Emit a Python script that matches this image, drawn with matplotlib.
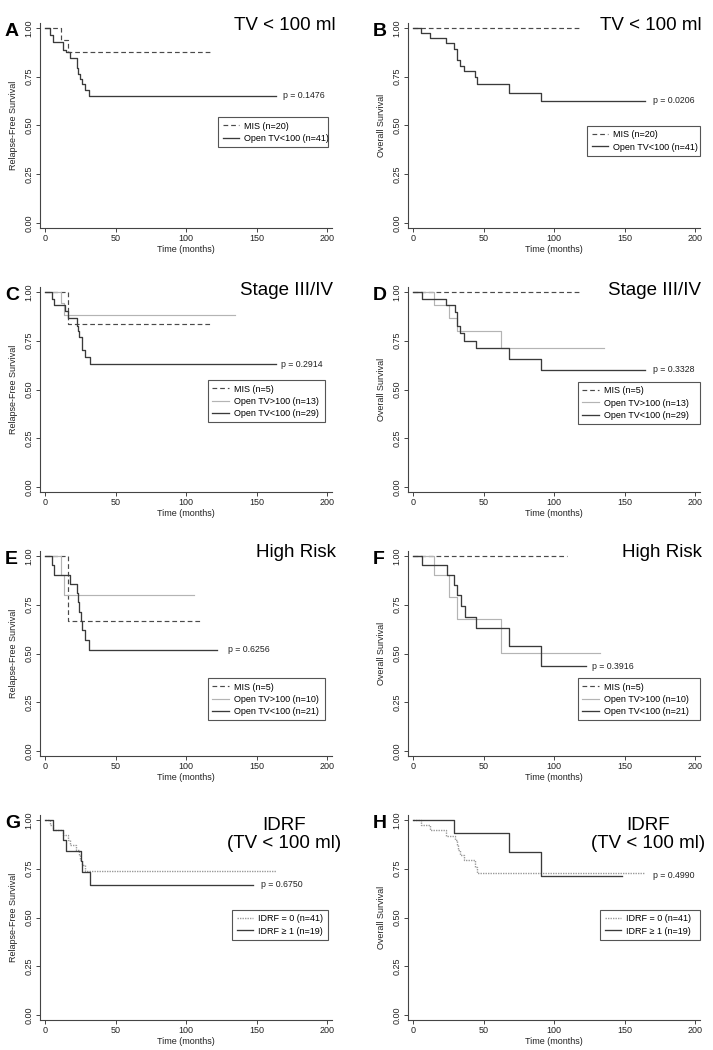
import matplotlib
matplotlib.use('Agg')
import matplotlib.pyplot as plt

plt.rcParams['font.family'] = ['Liberation Sans', 'DejaVu Sans']

# Kaplan-Meier curves.
# Each curve: step times (first = 0, last = end of follow-up) and survival.

# A: relapse-free survival, TV < 100 ml
a_mis_t = [0, 11.4, 16.6, 117.6]
a_mis_s = [1.0, 0.94, 0.875, 0.875]
a_open_t = [0, 3.6, 5.9, 13.0, 14.7, 17.8, 22.5, 23.7, 24.9, 26.0, 28.4, 31.5, 164.0]
a_open_s = [1.0, 0.966, 0.926, 0.888, 0.875, 0.846, 0.794, 0.765, 0.741, 0.714, 0.683, 0.652, 0.652]

# B: overall survival, TV < 100 ml
b_mis_t = [0, 117.9]
b_mis_s = [1.0, 1.0]
b_open_t = [0, 6.0, 11.9, 23.3, 29.3, 31.0, 33.3, 36.4, 44.0, 45.2, 67.9, 90.7, 164.8]
b_open_s = [1.0, 0.975, 0.95, 0.923, 0.892, 0.834, 0.806, 0.777, 0.748, 0.714, 0.669, 0.626, 0.626]

# C: relapse-free survival, stage III/IV
c_mis_t = [0, 16.6, 117.6]
c_mis_s = [1.0, 0.834, 0.834]
c_big_t = [0, 11.4, 13.7, 134.4]
c_big_s = [1.0, 0.942, 0.883, 0.883]
c_open_t = [0, 5.2, 6.4, 14.2, 16.6, 22.5, 23.2, 24.4, 26.0, 28.4, 32.0, 164.0]
c_open_s = [1.0, 0.966, 0.935, 0.90, 0.866, 0.828, 0.80, 0.767, 0.703, 0.666, 0.63, 0.63]

# D: overall survival, stage III/IV
d_mis_t = [0, 117.9]
d_mis_s = [1.0, 1.0]
d_big_t = [0, 14.8, 25.7, 31.0, 62.6, 135.7]
d_big_s = [1.0, 0.933, 0.866, 0.80, 0.714, 0.714]
d_open_t = [0, 6.7, 23.3, 29.8, 31.5, 33.3, 36.4, 44.5, 68.3, 91.0, 164.8]
d_open_s = [1.0, 0.966, 0.931, 0.897, 0.827, 0.79, 0.75, 0.714, 0.657, 0.60, 0.60]

# E: relapse-free survival, high risk
e_mis_t = [0, 16.6, 110.8]
e_mis_s = [1.0, 0.666, 0.666]
e_big_t = [0, 11.4, 13.7, 105.8]
e_big_s = [1.0, 0.90, 0.80, 0.80]
e_open_t = [0, 5.2, 6.4, 17.8, 22.5, 23.2, 24.4, 25.6, 26.5, 28.4, 31.5, 121.9]
e_open_s = [1.0, 0.952, 0.905, 0.858, 0.81, 0.762, 0.714, 0.667, 0.619, 0.571, 0.518, 0.518]

# F: overall survival, high risk
f_mis_t = [0, 109.5]
f_mis_s = [1.0, 1.0]
f_big_t = [0, 14.8, 25.7, 31.0, 62.6, 132.9]
f_big_s = [1.0, 0.90, 0.788, 0.676, 0.504, 0.504]
f_open_t = [0, 6.7, 23.8, 29.0, 31.0, 34.0, 36.9, 44.5, 68.3, 91.0, 122.6]
f_open_s = [1.0, 0.952, 0.905, 0.85, 0.80, 0.742, 0.685, 0.63, 0.539, 0.434, 0.434]

# G: relapse-free survival, IDRF (TV < 100 ml)
g_idrf0_t = [0, 3.6, 5.9, 13.0, 16.0, 18.0, 22.0, 24.0, 25.0, 26.0, 28.4, 164.0]
g_idrf0_s = [1.0, 0.974, 0.948, 0.923, 0.897, 0.871, 0.845, 0.819, 0.793, 0.767, 0.741, 0.741]
g_idrf1_t = [0, 5.9, 12.5, 14.7, 25.6, 26.5, 32.0, 147.2]
g_idrf1_s = [1.0, 0.947, 0.895, 0.842, 0.789, 0.734, 0.669, 0.669]

# H: overall survival, IDRF (TV < 100 ml)
h_idrf0_t = [0, 6.0, 11.9, 23.3, 30.0, 31.0, 32.1, 33.3, 36.4, 44.0, 45.2, 163.8]
h_idrf0_s = [1.0, 0.975, 0.947, 0.92, 0.895, 0.87, 0.845, 0.82, 0.795, 0.76, 0.729, 0.729]
h_idrf1_t = [0, 29.3, 68.3, 91.0, 148.3]
h_idrf1_s = [1.0, 0.935, 0.834, 0.714, 0.714]

letters = ['A', 'B', 'C', 'D', 'E', 'F', 'G', 'H']
titles = ['TV < 100 ml', 'TV < 100 ml', 'Stage III/IV', 'Stage III/IV',
          'High Risk', 'High Risk', 'IDRF\n(TV < 100 ml)', 'IDRF\n(TV < 100 ml)']
p_values = ['p = 0.1476', 'p = 0.0206', 'p = 0.2914', 'p = 0.3328',
            'p = 0.6256', 'p = 0.3916', 'p = 0.6750', 'p = 0.4990']
y_labels = ['Relapse-Free Survival', 'Overall Survival'] * 4
x_ticks = [0, 50, 100, 150, 200]
y_ticks = [0.0, 0.25, 0.5, 0.75, 1.0]

# line styles
DARK = '#3a3a3a'
STY_MIS = dict(color='#4a4a4a', linestyle=(0, (4, 2.5)), lw=0.85)
STY_BIG = dict(color='#b4b4b4', linestyle='-', lw=0.85)
STY_OPEN = dict(color=DARK, linestyle='-', lw=0.95)
STY_IDRF0 = dict(color='#9a9a9a', linestyle=(0, (1, 0.8)), lw=1.0)

panels = [
    [(a_mis_t, a_mis_s, STY_MIS, 'MIS (n=20)'),
     (a_open_t, a_open_s, STY_OPEN, 'Open TV<100 (n=41)')],
    [(b_mis_t, b_mis_s, STY_MIS, 'MIS (n=20)'),
     (b_open_t, b_open_s, STY_OPEN, 'Open TV<100 (n=41)')],
    [(c_mis_t, c_mis_s, STY_MIS, 'MIS (n=5)'),
     (c_big_t, c_big_s, STY_BIG, 'Open TV>100 (n=13)'),
     (c_open_t, c_open_s, STY_OPEN, 'Open TV<100 (n=29)')],
    [(d_mis_t, d_mis_s, STY_MIS, 'MIS (n=5)'),
     (d_big_t, d_big_s, STY_BIG, 'Open TV>100 (n=13)'),
     (d_open_t, d_open_s, STY_OPEN, 'Open TV<100 (n=29)')],
    [(e_mis_t, e_mis_s, STY_MIS, 'MIS (n=5)'),
     (e_big_t, e_big_s, STY_BIG, 'Open TV>100 (n=10)'),
     (e_open_t, e_open_s, STY_OPEN, 'Open TV<100 (n=21)')],
    [(f_mis_t, f_mis_s, STY_MIS, 'MIS (n=5)'),
     (f_big_t, f_big_s, STY_BIG, 'Open TV>100 (n=10)'),
     (f_open_t, f_open_s, STY_OPEN, 'Open TV<100 (n=21)')],
    [(g_idrf0_t, g_idrf0_s, STY_IDRF0, 'IDRF = 0 (n=41)'),
     (g_idrf1_t, g_idrf1_s, STY_OPEN, 'IDRF \u2265 1 (n=19)')],
    [(h_idrf0_t, h_idrf0_s, STY_IDRF0, 'IDRF = 0 (n=41)'),
     (h_idrf1_t, h_idrf1_s, STY_OPEN, 'IDRF \u2265 1 (n=19)')],
]

# layout (pixels / axes fractions measured on the reference)
W, H = 713, 1050
col_left = [40, 408]
row_top = [23, 287, 551, 815]
AX_W, AX_H = 292, 205
# legend box: (x0, y_top, width) in axes fraction
legend_box = [(0.61, 0.541, 0.376), (0.613, 0.498, 0.387),
              (0.575, 0.546, 0.401), (0.582, 0.537, 0.418),
              (0.575, 0.38, 0.401), (0.582, 0.38, 0.418),
              (0.658, 0.537, 0.328), (0.658, 0.537, 0.342)]
# p-value anchor (x in data, y in data)
p_pos = [(169, 0.652), (170, 0.626), (167.5, 0.63), (170, 0.60),
         (129.5, 0.518), (127, 0.434), (153, 0.669), (170, 0.717)]
# title anchor in axes fraction
title_pos = [(1.014, 0.99), (1.007, 0.99), (1.003, 0.985), (1.005, 0.985),
             (1.014, 0.995), (1.007, 0.995), (0.836, 0.905), (0.822, 0.905)]


def draw_panel(ax, curves, i):
    for t, s, sty, lab in curves:
        ax.step(t, s, where='post', label=lab, **sty)

    ax.set_xlim(-3.55, 203.5)
    ax.set_ylim(-0.0256, 1.0256)
    ax.set_xticks(x_ticks)
    ax.set_xticklabels([str(v) for v in x_ticks])
    ax.set_yticks(y_ticks)
    ax.set_yticklabels(['%.2f' % v for v in y_ticks], rotation=90, va='center')
    for sp in ['top', 'right']:
        ax.spines[sp].set_visible(False)
    for sp in ['left', 'bottom']:
        ax.spines[sp].set_color('#444444')
        ax.spines[sp].set_linewidth(0.8)
    ax.tick_params(axis='both', direction='out', length=3, width=0.7,
                   color='#444444', labelsize=6.5, labelcolor='#222222')
    ax.tick_params(axis='x', pad=1.5)
    ax.tick_params(axis='y', pad=1.5)
    ax.set_xlabel('Time (months)', fontsize=6.5, color='#222222', labelpad=1.0)
    ax.set_ylabel(y_labels[i], fontsize=6.5, color='#222222', labelpad=4.5)

    x0, ytop, w = legend_box[i]
    leg = ax.legend(loc='upper left', bbox_to_anchor=(x0, ytop - 0.3, w, 0.3),
                    mode='expand', fontsize=6.5, fancybox=False, framealpha=1,
                    handlelength=1.8, handletextpad=0.55, borderpad=0.5,
                    labelspacing=0.35, borderaxespad=0)
    leg.get_frame().set_edgecolor('#555555')
    leg.get_frame().set_linewidth(0.8)

    px, py = p_pos[i]
    ax.text(px, py, p_values[i], fontsize=6.3, ha='left', va='center',
            color='#222222')

    tx, ty = title_pos[i]
    if '\n' in titles[i]:
        ax.text(tx, ty, titles[i], transform=ax.transAxes, fontsize=13.5,
                ha='center', va='center', linespacing=1.12)
    else:
        ax.text(tx, ty, titles[i], transform=ax.transAxes, fontsize=13.5,
                ha='right', va='center')


fig = plt.figure(figsize=(W / 100, H / 100), dpi=100)
for i, curves in enumerate(panels):
    r, c = divmod(i, 2)
    left = col_left[c]
    top = row_top[r]
    ax = fig.add_axes([left / W, 1 - (top + AX_H) / H, AX_W / W, AX_H / H])
    draw_panel(ax, curves, i)
    fig.text((left - 35) / W, 1 - (top + 13) / H, letters[i], fontsize=14,
             fontweight='bold', ha='left', va='baseline')

fig.savefig('out.png', dpi=100)
